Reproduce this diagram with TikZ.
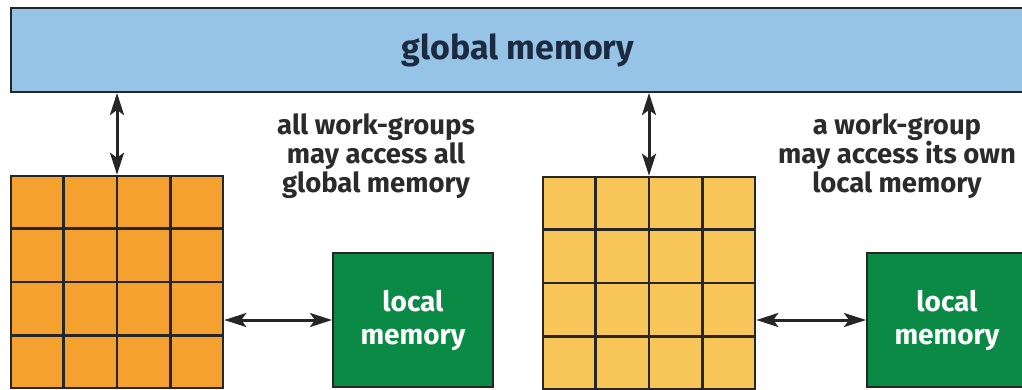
\documentclass[tikz,border=0pt]{standalone}
\usepackage{fontspec}
\setmainfont{Fira Sans}
\usepackage{tikz}
\usetikzlibrary{calc}
\usetikzlibrary{arrows.meta}
\definecolor{gmemblue}{RGB}{150,196,230}
\definecolor{wgorange}{RGB}{245,161,48}
\definecolor{wgyellow}{RGB}{247,197,88}
\definecolor{lmemgreen}{RGB}{11,138,69}
\definecolor{textgray}{RGB}{43,43,43}
\definecolor{textnavy}{RGB}{27,42,63}
\tikzset{
  memtip/.tip={Stealth[length=22pt,width=14pt,inset=5pt]},
  gmem/.style={draw=black!85, line width=2pt, fill=gmemblue, minimum width=1014pt, minimum height=84pt, inner sep=0pt, text=textnavy, font=\fontsize{34}{40}\selectfont\bfseries},
  wgbox/.style={draw=black!85, line width=2.6pt, minimum size=212pt, inner sep=0pt},
  gridline/.style={draw=black!85, line width=2.6pt},
  lmem/.style={draw=black!85, line width=2pt, fill=lmemgreen, minimum width=160pt, minimum height=134pt, inner sep=0pt, align=center, text=white, font=\fontsize{28}{33}\selectfont\bfseries},
  note/.style={align=center, text=textgray, font=\fontsize{27.5}{29}\selectfont\bfseries},
  biarrow/.style={memtip-memtip, line width=3pt, draw=black!85}
}
\newcommand{\wgrid}[4]{ \node[wgbox, fill=#4] (#1) at ( #2 , #3 ) {};
  \foreach \i in {1,2,3} {
    \draw[gridline] ($(#1.north west)!\i/4!(#1.north east)$) -- ($(#1.south west)!\i/4!(#1.south east)$);
    \draw[gridline] ($(#1.north west)!\i/4!(#1.south west)$) -- ($(#1.north east)!\i/4!(#1.south east)$);
  }}

\begin{document}
\begin{tikzpicture}[x=1pt,y=-1pt]
\useasboundingbox (0,0) rectangle (1022,389);
% global memory
\node[gmem] (gmem) at (518,50) {global memory};
% work-groups
\wgrid{wgleft}{117}{282}{wgorange}
\wgrid{wgright}{649}{283}{wgyellow}
% local memories
\node[lmem] (lmemleft) at (413,320) {local\\memory};
\node[lmem] (lmemright) at (947,320) {local\\memory};
% notes
\node[note] (noteleft) at (376,156) {all work-groups\\may access all\\global memory};
\node[note] (noteright) at (897,156) {a work-group\\may access its own\\local memory};
% arrows
\draw[biarrow] (gmem.south -| wgleft.north) -- (wgleft.north);
\draw[biarrow] (gmem.south -| wgright.north) -- (wgright.north);
\draw[biarrow] (wgleft.east |- lmemleft.west) -- (lmemleft.west);
\draw[biarrow] (wgright.east |- lmemright.west) -- (lmemright.west);
\end{tikzpicture}
\end{document}
